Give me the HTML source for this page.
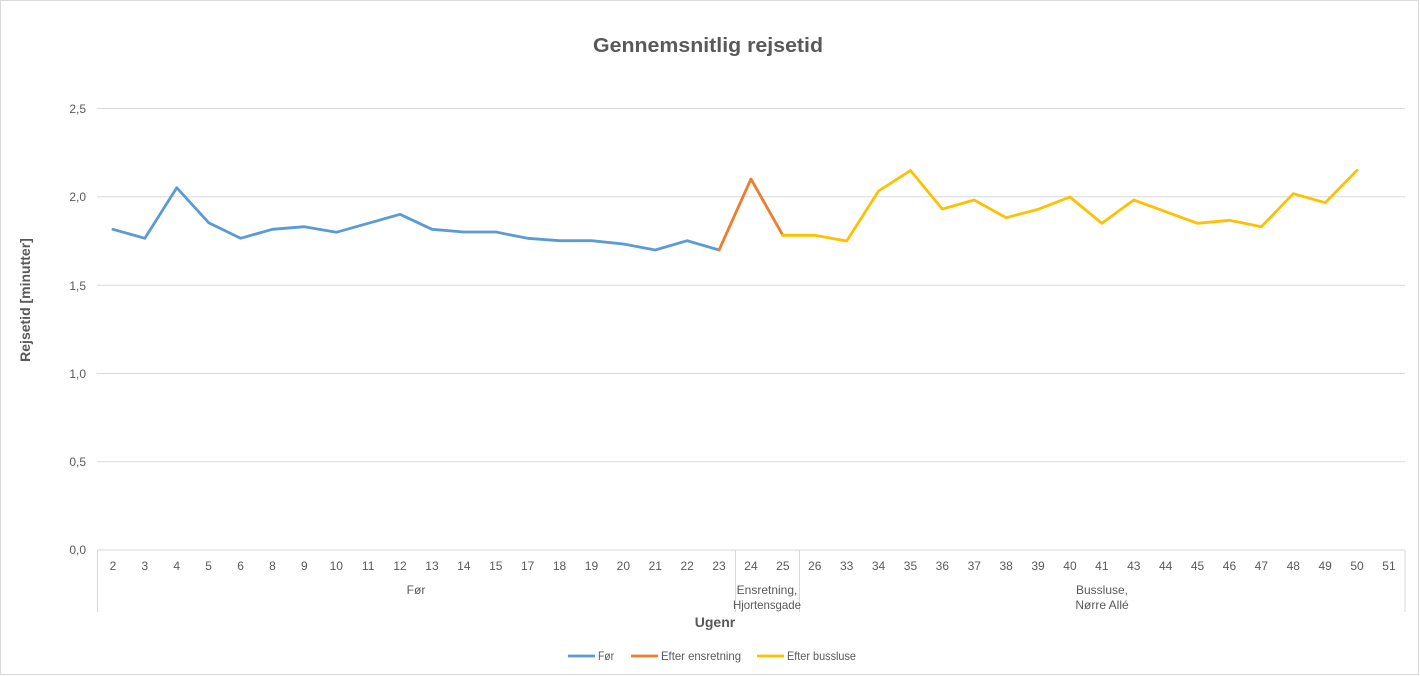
<!DOCTYPE html>
<html>
<head>
<meta charset="utf-8">
<style>
html,body{margin:0;padding:0;background:#fff;}
svg{display:block;}
text{font-family:"Liberation Sans",sans-serif;fill:#595959;}
</style>
</head>
<body>
<svg width="1420" height="676" viewBox="0 0 1420 676" xmlns="http://www.w3.org/2000/svg">
<rect x="0.5" y="0.5" width="1418" height="674" fill="#fff" stroke="#d9d9d9" stroke-width="1"/>
<text x="708" y="52" text-anchor="middle" font-size="20" font-weight="bold" textLength="230" lengthAdjust="spacingAndGlyphs">Gennemsnitlig rejsetid</text>
<g stroke="#d9d9d9" stroke-width="1">
<line x1="97" y1="108.5" x2="1405" y2="108.5"/>
<line x1="97" y1="196.8" x2="1405" y2="196.8"/>
<line x1="97" y1="285.2" x2="1405" y2="285.2"/>
<line x1="97" y1="373.5" x2="1405" y2="373.5"/>
<line x1="97" y1="461.8" x2="1405" y2="461.8"/>
<line x1="97" y1="550" x2="1405" y2="550"/>
<line x1="97.5" y1="550" x2="97.5" y2="612"/>
<line x1="735.5" y1="550" x2="735.5" y2="612"/>
<line x1="799.5" y1="550" x2="799.5" y2="612"/>
<line x1="1405" y1="550" x2="1405" y2="612"/>
</g>
<g font-size="12" text-anchor="end" style="fill:#636363">
<text x="86" y="113">2,5</text>
<text x="86" y="201">2,0</text>
<text x="86" y="290">1,5</text>
<text x="86" y="378">1,0</text>
<text x="86" y="466">0,5</text>
<text x="86" y="554">0,0</text>
</g>
<g font-size="12" text-anchor="middle" style="fill:#636363">
<text x="112.95" y="570">2</text>
<text x="144.85" y="570">3</text>
<text x="176.75" y="570">4</text>
<text x="208.65" y="570">5</text>
<text x="240.55" y="570">6</text>
<text x="272.45" y="570">8</text>
<text x="304.35" y="570">9</text>
<text x="336.25" y="570">10</text>
<text x="368.15" y="570">11</text>
<text x="400.05" y="570">12</text>
<text x="431.95" y="570">13</text>
<text x="463.85" y="570">14</text>
<text x="495.75" y="570">15</text>
<text x="527.65" y="570">17</text>
<text x="559.55" y="570">18</text>
<text x="591.45" y="570">19</text>
<text x="623.35" y="570">20</text>
<text x="655.25" y="570">21</text>
<text x="687.15" y="570">22</text>
<text x="719.05" y="570">23</text>
<text x="750.95" y="570">24</text>
<text x="782.85" y="570">25</text>
<text x="814.75" y="570">26</text>
<text x="846.65" y="570">33</text>
<text x="878.55" y="570">34</text>
<text x="910.45" y="570">35</text>
<text x="942.35" y="570">36</text>
<text x="974.25" y="570">37</text>
<text x="1006.15" y="570">38</text>
<text x="1038.05" y="570">39</text>
<text x="1069.95" y="570">40</text>
<text x="1101.85" y="570">41</text>
<text x="1133.75" y="570">43</text>
<text x="1165.65" y="570">44</text>
<text x="1197.55" y="570">45</text>
<text x="1229.45" y="570">46</text>
<text x="1261.35" y="570">47</text>
<text x="1293.25" y="570">48</text>
<text x="1325.15" y="570">49</text>
<text x="1357.05" y="570">50</text>
<text x="1388.95" y="570">51</text>
<text x="416" y="594">Før</text>
<text x="767" y="594">Ensretning,</text>
<text x="767" y="609" textLength="68" lengthAdjust="spacingAndGlyphs">Hjortensgade</text>
<text x="1102" y="594">Bussluse,</text>
<text x="1102" y="609">Nørre Allé</text>
</g>
<text x="715" y="627" text-anchor="middle" font-size="14" font-weight="bold">Ugenr</text>
<text transform="translate(30,300) rotate(-90)" text-anchor="middle" font-size="14" font-weight="bold">Rejsetid [minutter]</text>
<g fill="none" stroke-width="2.8" stroke-linejoin="round" stroke-linecap="round">
<polyline stroke="#5B9BD5" points="112.95,229.3 144.85,238.3 176.75,187.7 208.65,222.7 240.55,238.3 272.45,229.3 304.35,226.7 336.25,232.3 368.15,223.3 400.05,214.3 431.95,229.3 463.85,232 495.75,232 527.65,238.3 559.55,240.7 591.45,240.7 623.35,244 655.25,250 687.15,240.7 719.05,250"/>
<polyline stroke="#ED7D31" points="719.05,250 750.95,179 782.85,235.3"/>
<polyline stroke="#FFC000" points="782.85,235.3 814.75,235.3 846.65,241 878.55,191 910.45,170.5 942.35,209 974.25,200 1006.15,217.7 1038.05,209.3 1069.95,197 1101.85,223.3 1133.75,200 1165.65,211.7 1197.55,223.3 1229.45,220.3 1261.35,226.7 1293.25,193.7 1325.15,202.7 1357.05,170.3"/>
</g>
<g stroke-width="2.8">
<line x1="568" y1="656" x2="595" y2="656" stroke="#5B9BD5"/>
<line x1="631" y1="656" x2="658" y2="656" stroke="#ED7D31"/>
<line x1="757" y1="656" x2="784" y2="656" stroke="#FFC000"/>
</g>
<g font-size="12">
<text x="598" y="660" textLength="16" lengthAdjust="spacingAndGlyphs">Før</text>
<text x="661" y="660" textLength="80" lengthAdjust="spacingAndGlyphs">Efter ensretning</text>
<text x="787" y="660" textLength="69" lengthAdjust="spacingAndGlyphs">Efter bussluse</text>
</g>
</svg>
</body>
</html>
